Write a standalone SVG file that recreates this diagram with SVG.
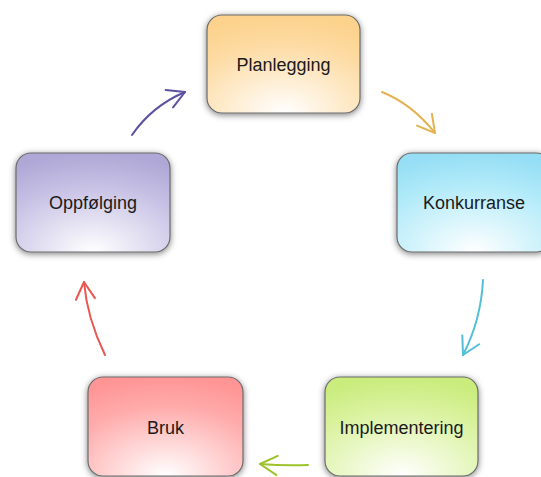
<svg xmlns="http://www.w3.org/2000/svg" width="541" height="477" viewBox="0 0 541 477">
<style>
.node rect{stroke:#6b6b6b;stroke-width:1.2;filter:url(#sh)}
.node text{font-family:"Liberation Sans",Arial,sans-serif;font-size:18px;fill:#1a1a1a;text-anchor:middle}
.conn path{fill:none;stroke-width:2;stroke-linecap:round}
</style>
<defs>
<filter id="sh" x="-20%" y="-20%" width="140%" height="150%">
<feDropShadow dx="0" dy="1.5" stdDeviation="3" flood-color="#000" flood-opacity="0.5"/>
</filter>
<radialGradient id="gO" cx="0.5" cy="1" r="1"><stop offset="0" stop-color="#fff"/><stop offset="0.7" stop-color="#fddba3"/><stop offset="1" stop-color="#fcd28c"/></radialGradient>
<radialGradient id="gC" cx="0.5" cy="1" r="1"><stop offset="0" stop-color="#fff"/><stop offset="0.7" stop-color="#b0eaf9"/><stop offset="1" stop-color="#95def5"/></radialGradient>
<radialGradient id="gG" cx="0.5" cy="1" r="1"><stop offset="0" stop-color="#fff"/><stop offset="0.7" stop-color="#d9f29d"/><stop offset="1" stop-color="#c9ec7c"/></radialGradient>
<radialGradient id="gR" cx="0.5" cy="1" r="1"><stop offset="0" stop-color="#fff"/><stop offset="0.7" stop-color="#ffabab"/><stop offset="1" stop-color="#ff9595"/></radialGradient>
<radialGradient id="gP" cx="0.5" cy="1" r="1"><stop offset="0" stop-color="#fff"/><stop offset="0.7" stop-color="#c4bee3"/><stop offset="1" stop-color="#afa7d6"/></radialGradient>
<marker id="aO" markerUnits="userSpaceOnUse" markerWidth="24" markerHeight="24" viewBox="-20 -12 24 24" refX="0" refY="0" orient="auto" overflow="visible"><path d="M-17,-9.5 L0,0 L-17,9.5" fill="none" stroke="#e3b352" stroke-width="2" stroke-linecap="round" stroke-linejoin="round"/></marker>
<marker id="aC" markerUnits="userSpaceOnUse" markerWidth="24" markerHeight="24" viewBox="-20 -12 24 24" refX="0" refY="0" orient="auto" overflow="visible"><path d="M-17,-9.5 L0,0 L-17,9.5" fill="none" stroke="#52bfd7" stroke-width="2" stroke-linecap="round" stroke-linejoin="round"/></marker>
<marker id="aG" markerUnits="userSpaceOnUse" markerWidth="24" markerHeight="24" viewBox="-20 -12 24 24" refX="0" refY="0" orient="auto" overflow="visible"><path d="M-17,-9.5 L0,0 L-17,9.5" fill="none" stroke="#9cc42a" stroke-width="2" stroke-linecap="round" stroke-linejoin="round"/></marker>
<marker id="aR" markerUnits="userSpaceOnUse" markerWidth="24" markerHeight="24" viewBox="-20 -12 24 24" refX="0" refY="0" orient="auto" overflow="visible"><path d="M-17,-9.5 L0,0 L-17,9.5" fill="none" stroke="#e85752" stroke-width="2" stroke-linecap="round" stroke-linejoin="round"/></marker>
<marker id="aP" markerUnits="userSpaceOnUse" markerWidth="24" markerHeight="24" viewBox="-20 -12 24 24" refX="0" refY="0" orient="auto" overflow="visible"><path d="M-17,-9.5 L0,0 L-17,9.5" fill="none" stroke="#5f4fa0" stroke-width="2" stroke-linecap="round" stroke-linejoin="round"/></marker>
</defs>
<g id="connectors" class="conn">
<path d="M382,92 Q412,104 435,133" stroke="#e3b352" marker-end="url(#aO)"/>
<path d="M483,280 Q481,320 463,355" stroke="#52bfd7" marker-end="url(#aC)"/>
<path d="M308,465 Q285,466 260,464" stroke="#9cc42a" marker-end="url(#aG)"/>
<path d="M105,355 Q87,318 84,282" stroke="#e85752" marker-end="url(#aR)"/>
<path d="M132,135 Q152,106 185,92" stroke="#5f4fa0" marker-end="url(#aP)"/>
</g>
<g id="node-planlegging" class="node"><rect x="207" y="15" width="153" height="98" rx="15" fill="url(#gO)"/><text x="283.5" y="70.5">Planlegging</text></g>
<g id="node-konkurranse" class="node"><rect x="397" y="153" width="154" height="99" rx="15" fill="url(#gC)"/><text x="474" y="209">Konkurranse</text></g>
<g id="node-implementering" class="node"><rect x="325" y="377" width="153" height="99" rx="15" fill="url(#gG)"/><text x="401.5" y="434">Implementering</text></g>
<g id="node-bruk" class="node"><rect x="88" y="377" width="155" height="99" rx="15" fill="url(#gR)"/><text x="165.5" y="434">Bruk</text></g>
<g id="node-oppfolging" class="node"><rect x="16" y="153" width="154" height="99" rx="15" fill="url(#gP)"/><text x="93" y="209">Oppfølging</text></g>
</svg>
